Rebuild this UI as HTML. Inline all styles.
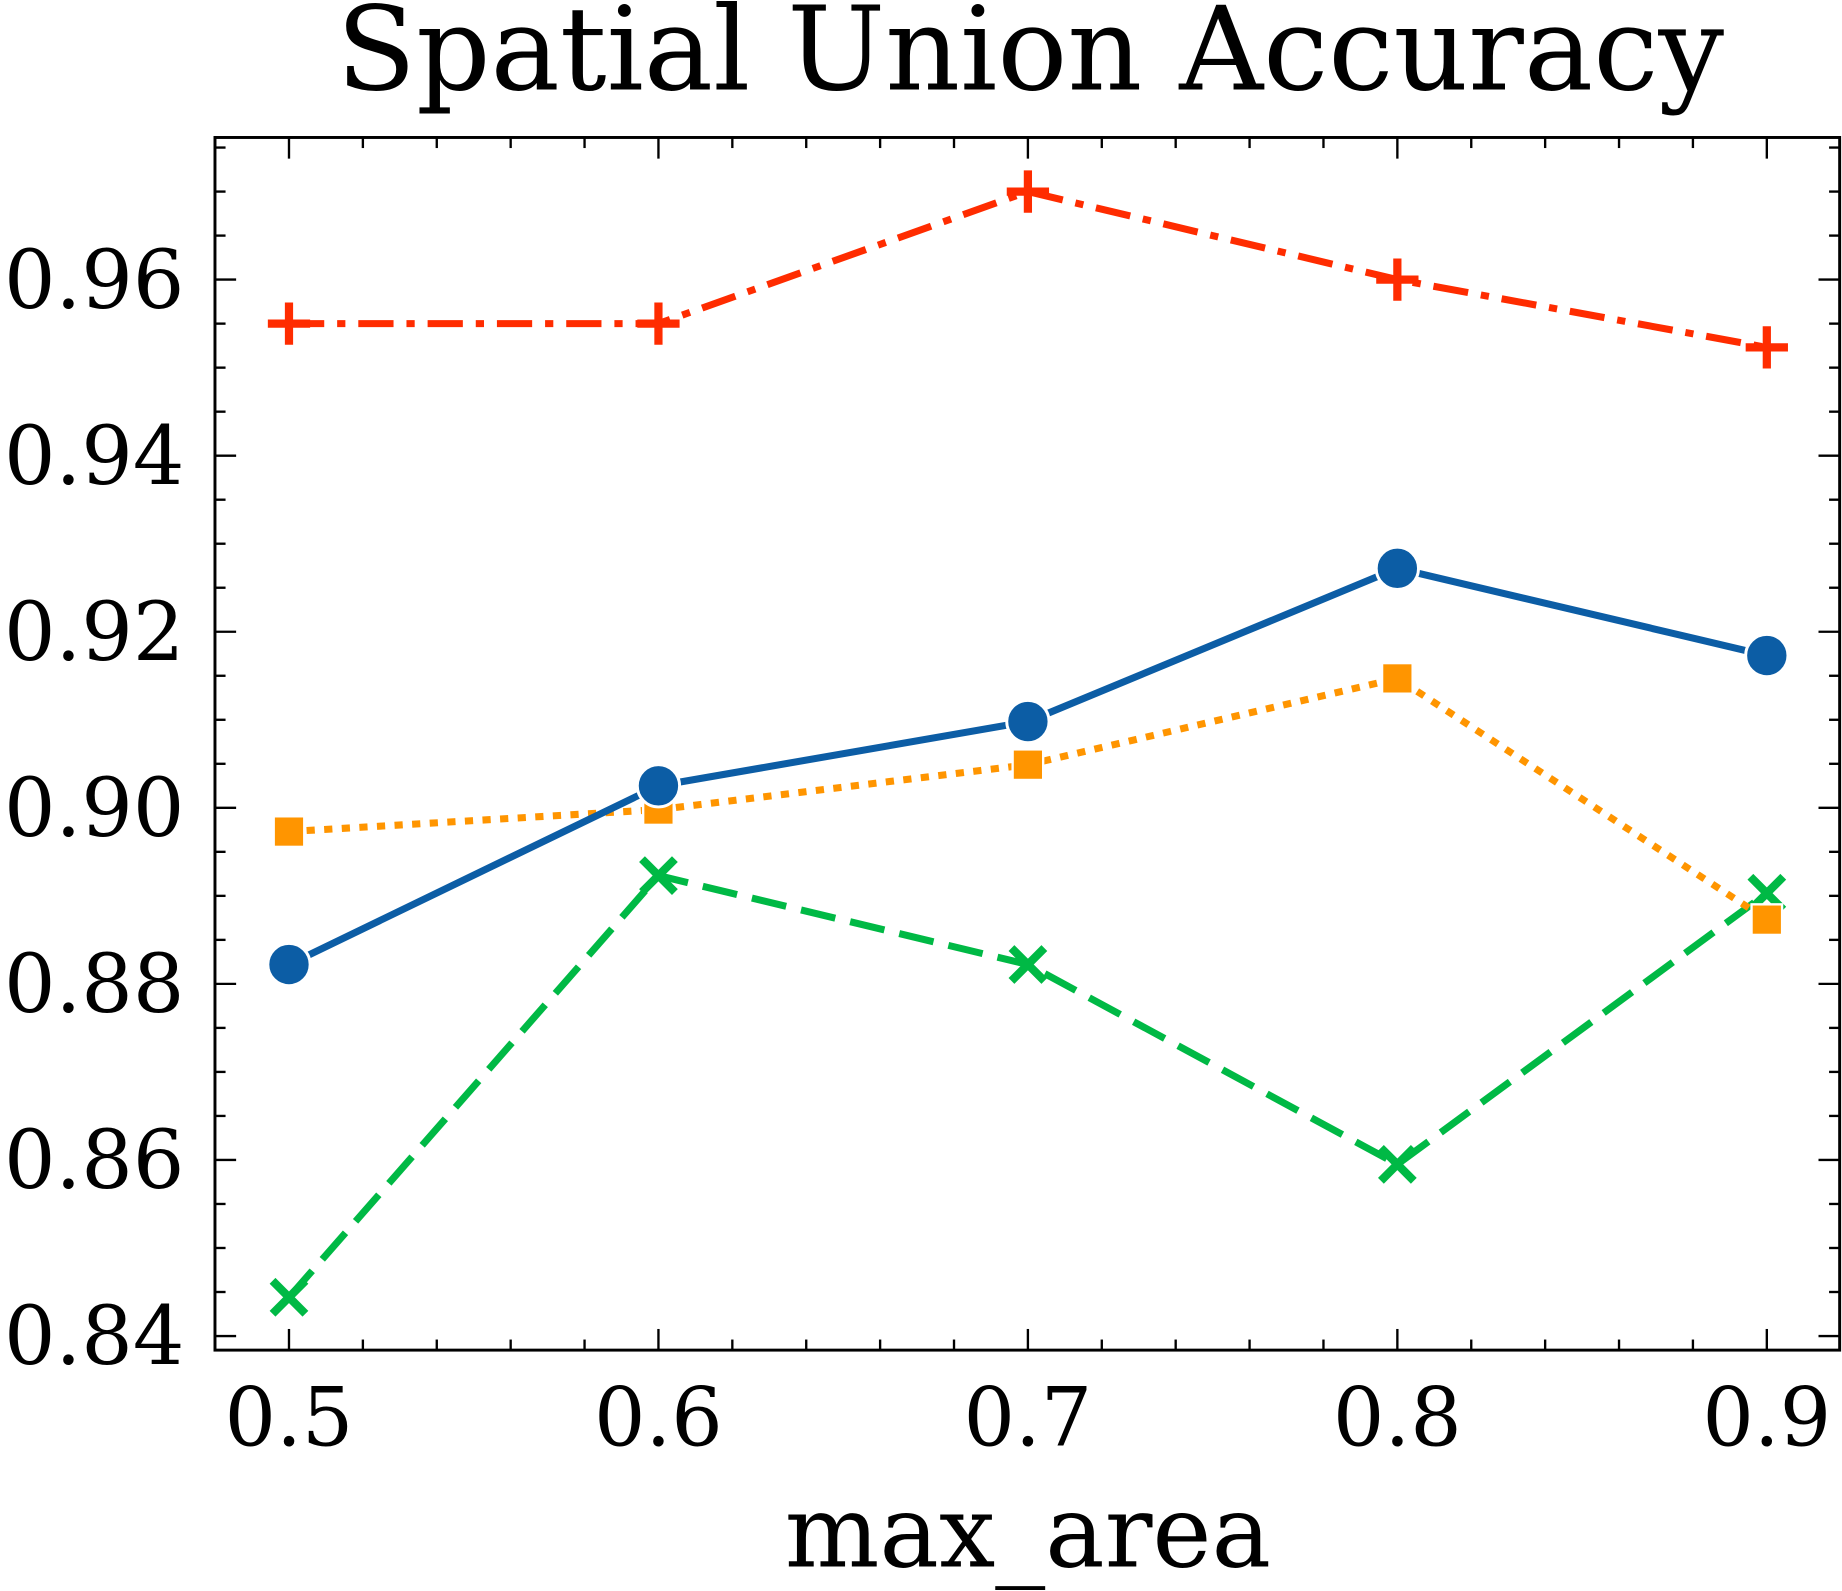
<!DOCTYPE html>
<html><head><meta charset="utf-8"><style>html,body{margin:0;padding:0;background:#fff}svg{display:block}</style></head>
<body>
<svg id="chart" width="1842" height="1591" viewBox="0 0 1568 1354" preserveAspectRatio="none" xmlns="http://www.w3.org/2000/svg" font-family="'DejaVu Serif','Liberation Serif',serif">
<text x="877" y="76" font-size="99" text-anchor="middle">Spatial Union Accuracy</text>
<text x="875" y="1333" font-size="85" text-anchor="middle">max_area</text>
<g id="ticks"></g>
<g id="series"></g>
<rect x="183" y="117" width="1383" height="1032" fill="none" stroke="#000" stroke-width="2.5"/>
</svg>
<script>
const categories = [0.5, 0.6, 0.7, 0.8, 0.9];
const xTickLabels = ["0.5","0.6","0.7","0.8","0.9"];
const yTickValues = [0.84,0.86,0.88,0.90,0.92,0.94,0.96];
const yTickLabels = ["0.84","0.86","0.88","0.90","0.92","0.94","0.96"];
const seriesRed = [0.955, 0.955, 0.970, 0.960, 0.9523];
const seriesBlue = [0.8822, 0.9025, 0.9098, 0.9272, 0.9173];
const seriesOrange = [0.8973, 0.8998, 0.9049, 0.9147, 0.8873];
const seriesGreen = [0.8444, 0.8923, 0.8822, 0.8595, 0.8903];

const NS="http://www.w3.org/2000/svg";
const X0=183,X1=1566,Y0=117,Y1=1149;
function xs(v){return 246+(v-0.5)*3145;}
function ys(v){return 1137-(v-0.84)*7492;}
function mk(tag,attrs,parent){const e=document.createElementNS(NS,tag);for(const k in attrs)e.setAttribute(k,attrs[k]);parent.appendChild(e);return e;}
const tg=document.getElementById('ticks');
for(let i=0;i<=22;i++){const v=0.48+i*0.02;const x=xs(v);if(x<X0||x>X1)continue;
 const major=Math.abs(Math.round(v*10)-v*10)<1e-6;const L=major?18:9;
 const t1=mk('line',{x1:x,x2:x,y1:Y1,y2:Y1-L,stroke:'#000','stroke-width':2},tg);
 
 
 const t2=mk('line',{x1:x,x2:x,y1:Y0,y2:Y0+L,stroke:'#000','stroke-width':2},tg);
 
 }
categories.forEach((c,i)=>{const t=mk('text',{x:xs(c),y:1230,'font-size':69,'text-anchor':'middle'},tg);t.textContent=xTickLabels[i];
 
 });
for(let i=0;i<=30;i++){const v=0.835+i*0.005;const y=ys(v);if(y<Y0||y>Y1)continue;
 const major=Math.abs(Math.round(v*50)-v*50)<1e-6;const L=major?18:9;
 const t1=mk('line',{x1:X0,x2:X0+L,y1:y,y2:y,stroke:'#000','stroke-width':2},tg);
 
 
 const t2=mk('line',{x1:X1,x2:X1-L,y1:y,y2:y,stroke:'#000','stroke-width':2},tg);
 
 }
yTickValues.forEach((v,i)=>{const t=mk('text',{x:157,y:ys(v)+24,'font-size':69,'text-anchor':'end'},tg);t.textContent=yTickLabels[i];
 
 });
const sg=document.getElementById('series');
function drawSeries(vals,color,dash,marker,name){
 const pts=vals.map((v,i)=>xs(categories[i])+','+ys(v)).join(' ');
 const pl=mk('polyline',{points:pts,fill:'none',stroke:color,'stroke-width':6,'stroke-dasharray':dash},sg);
 
 
 vals.forEach((v,i)=>{const x=xs(categories[i]),y=ys(v);let m;
  if(marker==='circle')m=mk('circle',{cx:x,cy:y,r:18,fill:color,stroke:'#fff','stroke-width':2.5},sg);
  else if(marker==='square')m=mk('rect',{x:x-13,y:y-13,width:26,height:26,fill:color,stroke:'#fff','stroke-width':2},sg);
  else if(marker==='plus')m=mk('path',{d:`M${x-18},${y}H${x+18}M${x},${y-18}V${y+18}`,stroke:color,'stroke-width':7,fill:'none'},sg);
  else m=mk('path',{d:`M${x-14},${y-14}L${x+14},${y+14}M${x-14},${y+14}L${x+14},${y-14}`,stroke:color,'stroke-width':7,fill:'none'},sg);
  
  });
}
drawSeries(seriesGreen,'#00B945','30,13','x','green-series');
drawSeries(seriesOrange,'#FF9500','7,8','square','orange-series');
drawSeries(seriesBlue,'#0C5DA5','none','circle','blue-series');
drawSeries(seriesRed,'#FF2C00','30,11,7,11','plus','red-series');
</script>
</body></html>
